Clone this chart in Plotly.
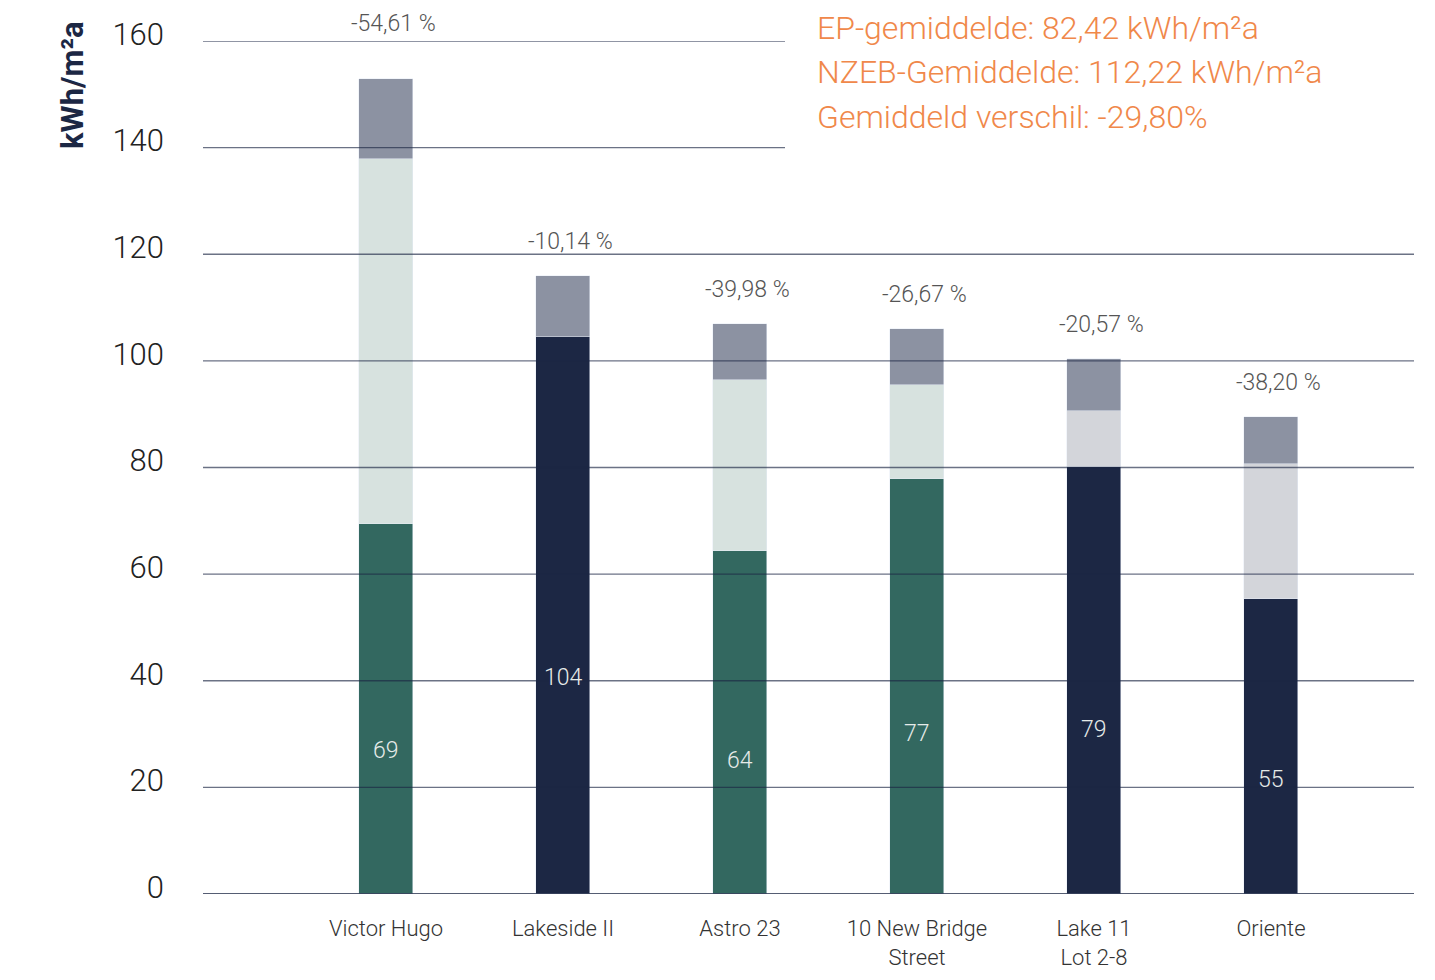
import plotly.graph_objects as go

categories = ["Victor Hugo", "Lakeside II", "Astro 23", "10 New Bridge<br>Street", "Lake 11<br>Lot 2-8", "Oriente"]
ep_values = [69, 104, 64, 77, 79, 55]
ep_shown = [69.4, 104.5, 64.3, 77.9, 80.1, 55.3]
middle_values = [68.5, 0, 32.1, 17.6, 10.5, 25.4]
top_values = [15.0, 11.4, 10.5, 10.5, 9.8, 8.8]
pct_labels = ["-54,61 %", "-10,14 %", "-39,98 %", "-26,67 %", "-20,57 %", "-38,20 %"]
bottom_colors = ["#336860", "#1c2744", "#336860", "#336860", "#1c2744", "#1c2744"]
middle_colors = ["#d7e2df", "#d7e2df", "#d7e2df", "#d7e2df", "#d3d5da", "#d3d5da"]
y_ticks = [0, 20, 40, 60, 80, 100, 120, 140, 160]
summary_lines = ["EP-gemiddelde: 82,42 kWh/m²a", "NZEB-Gemiddelde: 112,22 kWh/m²a", "Gemiddeld verschil: -29,80%"]

xs = list(range(len(categories)))
FONT = "Roboto"
W = 0.305

# page has 8px body margin; target plot area (page px): x 203..1414, y 41..894
OFF = 8
FW, FH = 1435 - 2 * OFF, 980 - 2 * OFF
L, T = 203 - OFF, 41 - OFF
R = FW - (1414 - OFF)
B = FH - (894 - OFF)
PW, PH = 1414 - 203, 894 - 41

fig = go.Figure()
fig.add_bar(x=xs, y=ep_shown, marker_color=bottom_colors, width=W, hoverinfo="skip")
fig.add_bar(x=xs, y=middle_values, marker_color=middle_colors, width=W, hoverinfo="skip")
fig.add_bar(x=xs, y=top_values, marker_color="#8c92a2", width=W, hoverinfo="skip")

annotations = []
for i, x in enumerate(xs):
    total = ep_shown[i] + middle_values[i] + top_values[i]
    annotations.append(dict(x=x + 0.04, y=total, yanchor="bottom", yshift=(40 if i == 0 else 19),
                            text=pct_labels[i], showarrow=False,
                            font=dict(family=FONT, size=23, color="#555555", weight=300)))
    annotations.append(dict(x=x, y=ep_values[i] * 0.39, text=str(ep_values[i]), showarrow=False,
                            font=dict(family=FONT, size=23, color="#e6ebe9", weight=300)))

for k, line in enumerate(summary_lines):
    annotations.append(dict(xref="paper", yref="paper", x=(815 - 203) / PW,
                            y=(894 - (28 + 44.5 * k)) / PH, xanchor="left", yanchor="middle",
                            text=line, showarrow=False,
                            font=dict(family=FONT, size=32, color="#f0884a", weight=300)))

annotations.append(dict(xref="paper", yref="paper", x=(72 - 203) / PW, y=(894 - 85) / PH,
                        xanchor="center", yanchor="middle",
                        text="kWh/m²a", textangle=-90, showarrow=False,
                        font=dict(family=FONT, size=31, color="#1c2744", weight=700)))

shapes = []
for t in y_ticks:
    x1 = (785 - 203) / PW if t >= 140 else 1
    shapes.append(dict(type="line", xref="paper", yref="y", x0=0, x1=x1, y0=t, y1=t,
                       layer="above",
                       line=dict(color="rgba(28,39,68,0.65)" if t > 0 else "#1c2744", width=1.3)))

fig.update_layout(
    barmode="stack",
    width=FW, height=FH,
    margin=dict(l=L, r=R, t=T, b=B, pad=0),
    plot_bgcolor="white", paper_bgcolor="white",
    showlegend=False,
    bargap=0,
    annotations=annotations,
    shapes=shapes,
    xaxis=dict(range=[-1.034, 5.808], tickvals=xs, ticktext=categories, showgrid=False,
               zeroline=False, showline=False, ticks="", ticklabelstandoff=19, automargin=False,
               tickfont=dict(family=FONT, size=22, color="#333333", weight=300)),
    yaxis=dict(range=[0, 160], tickvals=y_ticks, showgrid=False, zeroline=False, showline=False,
               ticks="", ticklabelstandoff=38, ticklabelshift=-7, automargin=False,
               tickfont=dict(family=FONT, size=31, color="#222222", weight=300)),
)

fig.write_html("out.html")
